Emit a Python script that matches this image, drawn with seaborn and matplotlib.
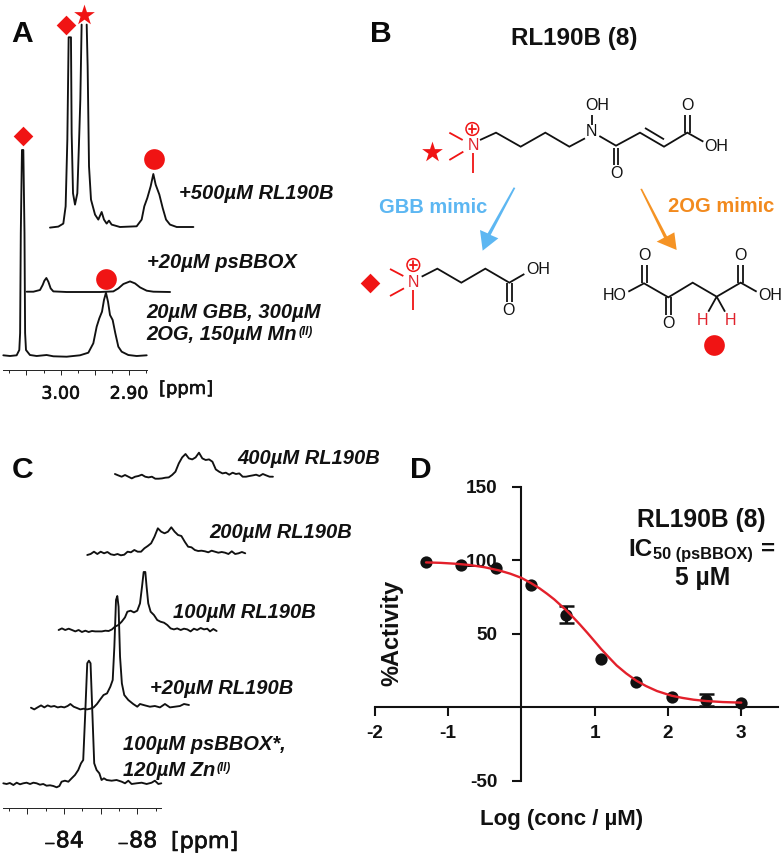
import numpy as np
import pandas as pd
import matplotlib
matplotlib.use("Agg")
import matplotlib.pyplot as plt
import matplotlib.patheffects as pe
from matplotlib.patches import Polygon, Circle
import seaborn as sns

# ---------- Panel A: 1H spectra (ppm, intensity) ----------
A_ppm_base = [3.0839,3.0741,3.0644,3.0605,3.0593,3.0583,3.0566,3.0546,3.0529,3.0520,3.0507,3.0449,3.0351,3.0205,3.0107,2.9912,2.9717,2.9595,2.9522,2.9473,2.9434,2.9395,2.9366,2.9337,2.9307,2.9278,2.9239,2.92,2.9156,2.9107,2.901,2.8888,2.8741]
A_int_base = [0.7,0,0.7,6,23,123,206,206,123,23,6,1,0,1,-0.3,-0.7,0.7,3.3,12.7,29.3,37.7,44.3,56,63.3,54.3,41,36,22.7,9.3,4.3,1,0,0.7]
A_ppm_enz = [3.0839,3.0741,3.0644,3.0605,3.058,3.0551,3.0522,3.0488,3.0449,3.0254,2.9766,2.9571,2.9498,2.9424,2.9327,2.9254,2.918,2.9083,2.8985,2.8741]
A_int_enz = [0,0,1.7,6.7,11,13.7,10,3.3,0.3,-0.3,-0.3,0.3,3.3,7.7,10.3,8.3,4.3,1,0,-0.3]
A_ppm_inh_left = [3.0839,3.0717,3.0644,3.061,3.0585,3.0566,3.0532,3.0522,3.0502,3.0473,3.0439,3.041,3.0395,3.0376]
A_int_inh_left = [-0.3,0.7,3.7,21,87.7,190,190,94,34,22.7,34,94,128,202.7]
A_ppm_inh_right = [3.0302,3.0288,3.0268,3.0239,3.018,3.0132,3.0083,3.0049,3.001,2.9976,2.9937,2.9815,2.9571,2.9498,2.9459,2.9415,2.9366,2.9327,2.9293,2.9239,2.919,2.9141,2.9083,2.8985,2.8741]
A_int_inh_right = [202.7,161,61,27.7,12.7,7.7,15.3,7.7,3.7,6.7,2.7,0.3,1,7.7,21,29.3,41,53.3,42.7,32.7,19.3,7.7,2.7,0.3,0.3]
A_stack_dppm = [0.0, 0.0342, 0.0683]
A_stack_dint = [0.0, 64.3, 128.7]
A_major = [3.05, 3.00, 2.95, 2.90]
A_major_labels = ["", "3.00", "", "2.90"]
A_minor = [3.075, 3.025, 2.975, 2.925, 2.875]

# ---------- Panel C: 19F spectra (ppm, intensity) ----------
C_ppm_1 = [-80.69,-80.87,-81.05,-81.24,-81.42,-81.6,-81.78,-81.96,-82.15,-82.33,-82.51,-82.69,-82.87,-83.05,-83.24,-83.42,-83.6,-83.75,-83.87,-84.05,-84.24,-84.42,-84.6,-84.78,-84.93,-85.05,-85.16,-85.27,-85.36,-85.45,-85.55,-85.65,-85.78,-85.93,-86.05,-86.18,-86.33,-86.6,-86.87,-87.15,-87.33,-87.51,-87.69,-87.96,-88.24,-88.51,-88.78,-88.96,-89.15,-89.31]
C_int_1 = [0.7,0,1,-1,1.3,-0.3,0.7,1.3,0,1.3,0.7,-0.7,0,-1.7,-1.3,-2,-3.3,-2,2.3,3.3,2.3,5.7,9,14,20.7,24,70.7,120.7,123.3,120.7,70.7,20.7,14,10.7,4,5.7,4,3.3,4,2.3,0.7,3.3,0,0.7,1.3,0,1.3,3.3,0,0.7]
C_ppm_2 = [-80.69,-80.87,-81.05,-81.24,-81.42,-81.6,-81.78,-81.96,-82.15,-82.33,-82.51,-82.69,-82.84,-83.02,-83.2,-83.38,-83.56,-83.75,-83.93,-84.11,-84.29,-84.47,-84.65,-84.84,-85.02,-85.15,-85.24,-85.33,-85.4,-85.47,-85.55,-85.65,-85.78,-86.0,-86.27,-86.49,-86.64,-86.91,-87.18,-87.45,-87.73,-88.0,-88.27,-88.55,-88.82,-89.04,-89.31]
C_int_2 = [-1,-2.7,-0.7,1.3,-0.7,1.3,0,0.7,-0.7,0,-0.7,0.7,2.7,0,-1.3,-2.7,-2,-2.7,-2,-0.7,2.7,7.3,11.7,13.3,20,26.7,60,106.7,110.7,100,50,23.3,11.7,6.7,2.7,0,2.7,1.3,0,0.7,-0.7,2.7,-0.7,0,0.7,2.7,1.7]
C_ppm_3 = [-80.69,-80.87,-81.05,-81.24,-81.42,-81.6,-81.78,-81.96,-82.15,-82.33,-82.51,-82.69,-82.87,-83.05,-83.24,-83.42,-83.6,-83.76,-83.95,-84.13,-84.31,-84.44,-84.62,-84.8,-84.98,-85.13,-85.24,-85.33,-85.42,-85.49,-85.58,-85.71,-85.89,-86.07,-86.25,-86.44,-86.62,-86.8,-86.98,-87.16,-87.35,-87.53,-87.71,-87.89,-88.07,-88.25,-88.44,-88.62,-88.8,-88.95,-89.13,-89.31]
C_int_3 = [0.7,2.3,0.7,2,0.7,-0.7,0.7,-1.3,0,-1.3,-0.3,-0.7,-0.7,-0.7,0,-0.3,1.3,4,5.7,9,13.3,19,20,18.3,20,27.3,44,58.7,58.7,44,27.3,19,15.7,10.7,9,8,5.7,2.3,1.3,2.3,0.7,2,1.3,-0.7,2,0.7,2.7,1.3,2,-0.7,1.7,-0.3]
C_int_4 = [-1,0,2.3,0,2.3,0.7,2,-0.3,-1,0,-1.3,-0.7,2.3,1.7,4,2.3,2.3,5.7,8,10.7,17.3,25.7,22.3,20.7,22.3,26.7,22.3,19,18,12.3,7.3,6.7,4,3,3.3,2.7,1.7,3.3,2.3,1.3,2,1.3,0,2.7,0,0.7,2,0.7]
C_int_5 = [2.7,1.3,0,1.7,0,-1.7,0,0.7,2,0,-0.7,0,-2,-2,-1.7,-1,-0.7,1.7,5,13.3,19.3,22.7,18.3,17.3,19.3,24,18.3,16.7,17.3,15,7.3,5,3.3,4,2,4,2.7,3.3,0,0,0.7,1.3,2,0.7,2.7,1.3,0,0]
C_ppm_grid = np.linspace(-80.69, -89.31, len(C_int_4))
C_stack_dppm = [0.0, 1.509, 3.018, 4.58, 6.09]
C_stack_dint = [0.0, 77.3, 153.3, 230.0, 307.3]
C_major = [-82, -84, -86, -88]
C_major_labels = ["", "\u208b84", "", "\u208b88"]
C_minor = [-81, -83, -85, -87, -89]

# ---------- Panel D: dose-response ----------
D_log_conc = [-1.3,-0.82,-0.35,0.13,0.61,1.09,1.57,2.05,2.52,3.0]
D_activity = [99,97,95,83,63,33,17,7,5,2.7]
D_error = [0,0,0,0,6,0,0,0,4,0]
D_fit_x = [-1.3,-1.1,-0.9,-0.7,-0.5,-0.3,-0.15,0,0.13,0.25,0.35,0.45,0.6,0.7,0.8,0.9,1.0,1.09,1.2,1.3,1.43,1.57,1.7,1.85,2.05,2.2,2.35,2.52,2.75,3.0]
D_fit_y = [98.5,98.2,97.6,96.7,95.2,93,90.8,88,84.5,80.8,77.2,73.3,66.5,61.5,56.2,50.6,44.8,39.5,33.6,28.4,23,18,14.4,11,7.8,6.3,5.1,4.2,3.5,3.1]
D_xticks = [-2,-1,1,2,3]
D_yticks = [-50,50,100,150]

# ---------- Panel B: structures (drawing units) ----------
chem_black = [
    [(420,420),(468,398),(542,440),(616,398),(688,440),(735,415)],
    [(755,345),(755,375)], [(778,408),(828,437),(900,398),(972,440),(1042,398),(1090,425)],
    [(821,445),(821,495)], [(835,445),(835,495)], [(915,384),(972,418)],
    [(1035,398),(1035,345)], [(1050,398),(1050,345)],
    [(245,830),(292,806),(364,848),(436,806),(508,848),(553,822)],
    [(500,848),(500,905)], [(515,848),(515,905)],
    [(865,875),(912,850),(985,892),(1058,848),(1130,890),(1202,848),(1250,875)],
    [(905,850),(905,795)], [(920,850),(920,795)],
    [(978,892),(978,945)], [(993,892),(993,945)],
    [(1195,848),(1195,795)], [(1210,848),(1210,795)],
    [(1105,935),(1130,890),(1155,935)],
]
chem_red = [
    [(328,398),(368,420)], [(328,480),(370,455)], [(399,460),(399,520)],
    [(150,807),(190,828)], [(150,888),(192,865)], [(220,870),(220,930)],
]
chem_plus = [(397,387),(220,795)]
chem_atoms_black = [("N",755,396),("OH",772,316),("O",828,522),("O",1042,316),("OH",1130,440),
                    ("OH",595,808),("O",506,932),("HO",825,888),("O",913,767),("O",985,972),
                    ("O",1200,767),("OH",1290,888)]
chem_atoms_red = [("N",399,438),("N",220,848),("H",1088,962),("H",1170,962)]
arrow_blue = [[(521,562),(526,564),(452,705),(475,715),(428,752),(420,690),(443,700)]]
arrow_orange = [[(901,567),(906,566),(981,709),(1003,697),(1010,750),(950,725),(972,713)]]

# ---------- Text (pixel layout on the page) ----------
panel_letters = [("A",11.5,34),("B",370,34),("C",12,470),("D",410,470)]
A_labels = [("+500\u00b5M RL190B",179,193),("+20\u00b5M psBBOX",147,262),
            ("20\u00b5M GBB, 300\u00b5M",146,312),("2OG, 150\u00b5M Mn",146,335)]
C_labels = [("400\u00b5M RL190B",237,458),("200\u00b5M RL190B",209,532),("100\u00b5M RL190B",173,612),
            ("+20\u00b5M RL190B",150,688),("100\u00b5M psBBOX*,",123,745),("120\u00b5M Zn",123,770)]
RED = "#F01414"
INK = "#111111"

W, H = 784, 856
sns.set_theme(style="white")
plt.rcParams["font.family"] = ["Liberation Sans", "DejaVu Sans"]
fig = plt.figure(figsize=(W/100, H/100), dpi=100)
heavy = [pe.withStroke(linewidth=0.45, foreground=INK)]

def px_axes(left, top, right, bottom):
    ax = fig.add_axes([left/W, 1-bottom/H, (right-left)/W, (bottom-top)/H])
    ax.patch.set_visible(False)
    return ax

def trace(ax, ppm, intensity, dppm, dint):
    df = pd.DataFrame({"ppm": np.asarray(ppm)-dppm, "i": np.asarray(intensity)+dint})
    sns.lineplot(data=df, x="ppm", y="i", estimator=None, sort=False, color=INK,
                 lw=1.35, ax=ax, clip_on=False, legend=False)

def spectrum_axis(ax, xlim, ylim, major, labels, minor, pad, size, ml, mn):
    ax.set_xlim(*xlim); ax.set_ylim(*ylim)
    for s in ("top","left","right"):
        ax.spines[s].set_visible(False)
    ax.spines["bottom"].set_linewidth(0.7)
    ax.spines["bottom"].set_color("#222222")
    ax.set_yticks([]); ax.set_xlabel(""); ax.set_ylabel("")
    ax.set_xticks(major); ax.set_xticklabels(labels, family="DejaVu Sans", fontsize=size, color=INK)
    for lab in ax.get_xticklabels():
        lab.set_path_effects(heavy)
    ax.set_xticks(minor, minor=True)
    ax.tick_params(axis="x", which="major", bottom=True, length=ml, width=0.7, pad=pad, color="#222222")
    ax.tick_params(axis="x", which="minor", bottom=True, length=mn, width=0.7, color="#222222")

# overlay in page pixels
ov = px_axes(0, 0, W, H)
ov.set_xlim(0, W); ov.set_ylim(H, 0); ov.axis("off")

# Panel A
axA = px_axes(3.3, 0, 146.7, 370)
trace(axA, A_ppm_base, A_int_base, A_stack_dppm[0], A_stack_dint[0])
trace(axA, A_ppm_enz, A_int_enz, A_stack_dppm[1], A_stack_dint[1])
trace(axA, A_ppm_inh_left, A_int_inh_left, A_stack_dppm[2], A_stack_dint[2])
trace(axA, A_ppm_inh_right, A_int_inh_right, A_stack_dppm[2], A_stack_dint[2])
spectrum_axis(axA, (3.0839, 2.8741), (-14, 356), A_major, A_major_labels, A_minor, 7, 12.5, 3.6, 2)

# Panel C
axC = px_axes(3.3, 430, 161.3, 807.7)
trace(axC, C_ppm_1, C_int_1, C_stack_dppm[0], C_stack_dint[0])
trace(axC, C_ppm_2, C_int_2, C_stack_dppm[1], C_stack_dint[1])
trace(axC, C_ppm_3, C_int_3, C_stack_dppm[2], C_stack_dint[2])
trace(axC, C_ppm_grid, C_int_4, C_stack_dppm[3], C_stack_dint[3])
trace(axC, C_ppm_grid, C_int_5, C_stack_dppm[4], C_stack_dint[4])
spectrum_axis(axC, (-80.69, -89.31), (-23.7, 354), C_major, C_major_labels, C_minor, 13, 16, 4, 2)

# Panel D
axD = px_axes(374.7, 486.7, 778.3, 780.7)
sns.scatterplot(x=D_log_conc, y=D_activity, color=INK, s=78, linewidth=0, ax=axD, zorder=3, clip_on=False)
err_x = [x for x, e in zip(D_log_conc, D_error) if e > 0]
err_y = [y for y, e in zip(D_activity, D_error) if e > 0]
err_e = [e for e in D_error if e > 0]
axD.errorbar(err_x, err_y, yerr=err_e, fmt="none", ecolor=INK, elinewidth=2.2,
             capsize=5.4, capthick=1.8, zorder=3, clip_on=False)
sns.lineplot(x=D_fit_x, y=D_fit_y, estimator=None, sort=False, color="#E3202B", lw=1.7, ax=axD, zorder=4, clip_on=False)
axD.set_xlim(-2, 3.505); axD.set_ylim(-50, 150)
axD.spines["top"].set_visible(False); axD.spines["right"].set_visible(False)
axD.spines["left"].set_position(("data", 0)); axD.spines["bottom"].set_position(("data", 0))
for s in ("left","bottom"):
    axD.spines[s].set_linewidth(1.5); axD.spines[s].set_color(INK)
axD.set_xticks(D_xticks); axD.set_yticks(D_yticks)
axD.set_xticklabels([str(v) for v in D_xticks], fontweight="bold", fontsize=13.7, color=INK)
axD.set_yticklabels([str(v) for v in D_yticks], fontweight="bold", fontsize=13.7, color=INK)
axD.tick_params(axis="x", bottom=True, length=6.5, width=1.5, color=INK, pad=6.5)
axD.tick_params(axis="y", left=True, length=6.5, width=1.5, color=INK, pad=10.5)
axD.set_xlabel("Log (conc / \u00b5M)", fontweight="bold", fontsize=16, color=INK)
axD.set_ylabel("%Activity", fontweight="bold", fontsize=17, color=INK)
axD.xaxis.set_label_coords((562-374.7)/403.6, 1-(809-486.7)/294, transform=axD.transAxes)
axD.yaxis.set_label_coords((403-374.7)/403.6, 1-(633-486.7)/294, transform=axD.transAxes)

# Panel B structures
axB = px_axes(340, 0, 784, 380)
axB.set_xlim(0, 1332); axB.set_ylim(1140, 0); axB.axis("off")
for seg in chem_black:
    xs, ys = zip(*seg)
    axB.plot(xs, ys, color=INK, lw=1.3, solid_joinstyle="miter", solid_capstyle="butt")
for seg in chem_red:
    xs, ys = zip(*seg)
    axB.plot(xs, ys, color=RED, lw=1.3, solid_capstyle="butt")
for cx, cy in chem_plus:
    axB.add_patch(Circle((cx, cy), 19, fill=False, ec=RED, lw=1.1))
    axB.plot([cx-11, cx+11], [cy, cy], color=RED, lw=1.3)
    axB.plot([cx, cx], [cy-11, cy+11], color=RED, lw=1.3)
for t, x, y in chem_atoms_black:
    axB.text(x, y, t, ha="center", va="center", fontsize=11.5, color=INK)
for t, x, y in chem_atoms_red:
    axB.text(x, y, t, ha="center", va="center", fontsize=11.5, color="#E0222C")
axB.add_patch(Polygon(arrow_blue[0], closed=True, fc="#5DB7F2", ec="none"))
axB.add_patch(Polygon(arrow_orange[0], closed=True, fc="#F59324", ec="none"))
axB.scatter([277], [455], marker="*", s=246, color=RED, linewidth=0)
axB.scatter([90], [850], marker="D", s=100, color=RED, linewidth=0)
axB.scatter([1122], [1035], marker="o", s=222, color=RED, linewidth=0)

# markers panel A (page pixels)
ov.scatter([22.7, 66], [135.7, 25.3], marker="D", s=100, color=RED, linewidth=0, zorder=5)
ov.scatter([84], [15], marker="*", s=246, color=RED, linewidth=0, zorder=5)
ov.scatter([154.3, 106], [159.3, 279.3], marker="o", s=222, color=RED, linewidth=0, zorder=5)

# text
for t, x, y in panel_letters:
    ov.text(x, y, t, fontsize=21.6, fontweight="bold", color="#0a0a0a", ha="left", va="center")
for t, x, y in A_labels + C_labels:
    ov.text(x, y, t, fontsize=14.5, fontweight="bold", style="italic", color=INK, ha="left", va="center")
ov.text(298.5, 332, "(II)", fontsize=8.5, fontweight="bold", style="italic", color=INK, ha="left", va="center")
ov.text(216.5, 768, "(II)", fontsize=8.5, fontweight="bold", style="italic", color=INK, ha="left", va="center")
ov.text(159, 389, "[ppm]", family="DejaVu Sans", fontsize=12.9, color=INK, ha="left", va="center", path_effects=heavy)
ov.text(171, 842, "[ppm]", family="DejaVu Sans", fontsize=16, color=INK, ha="left", va="center", path_effects=heavy)
ov.text(574.5, 38, "RL190B (8)", fontsize=17.5, fontweight="bold", color=INK, ha="center", va="center")
ov.text(433.5, 207, "GBB mimic", fontsize=14.5, fontweight="bold", color="#5DB7F2", ha="center", va="center")
ov.text(721, 206, "2OG mimic", fontsize=14.5, fontweight="bold", color="#F28A1E", ha="center", va="center")
ov.text(701.7, 520, "RL190B (8)", fontsize=17.7, fontweight="bold", color=INK, ha="center", va="center")
ov.text(628, 549, "IC", fontsize=17.5, fontweight="bold", color=INK, ha="left", va="center")
ov.text(653, 555, "50 (psBBOX)", fontsize=11.8, fontweight="bold", color=INK, ha="left", va="center")
ov.text(768, 549, "=", fontsize=17.5, fontweight="bold", color=INK, ha="center", va="center")
ov.text(703, 578, "5 \u00b5M", fontsize=17.7, fontweight="bold", color=INK, ha="center", va="center")

fig.savefig("out.png", dpi=100)
